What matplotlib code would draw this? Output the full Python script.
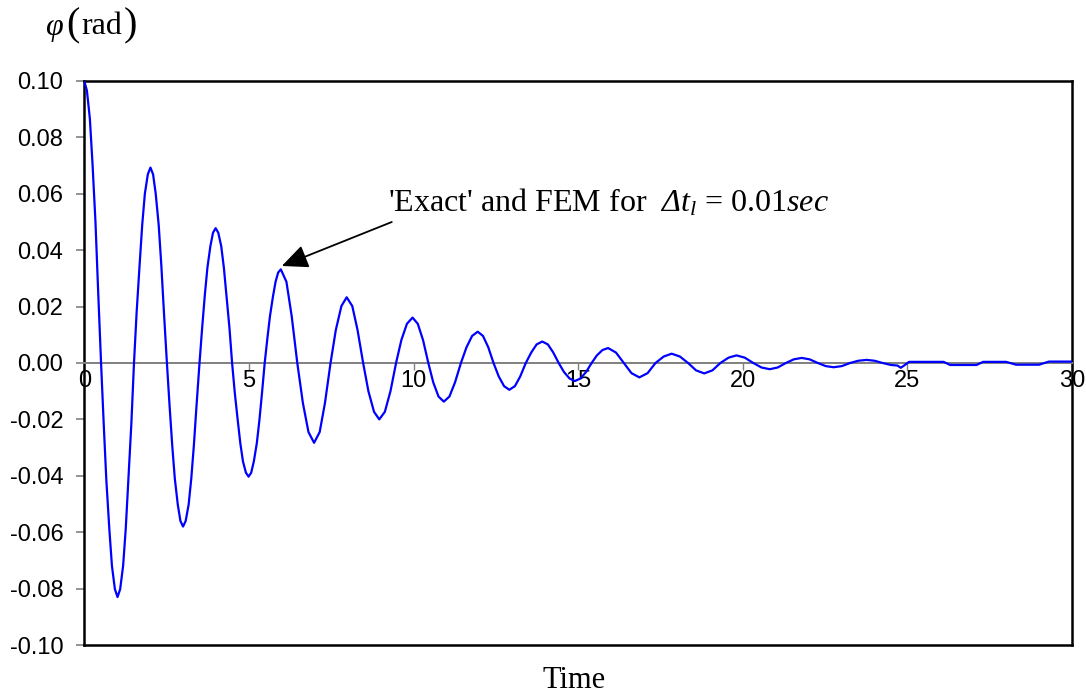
import numpy as np
import matplotlib
matplotlib.use("Agg")
import matplotlib.pyplot as plt
from matplotlib.ticker import FormatStrFormatter

# --- 1. DATA ---
# time axis, seconds
time = [
    0.00, 0.08, 0.17, 0.25, 0.34, 0.42, 0.51, 0.59, 0.67, 0.76, 0.84, 0.93, 1.01,
    1.09, 1.18, 1.26, 1.34, 1.43, 1.51, 1.59, 1.68, 1.76, 1.84, 1.93, 2.01,
    2.09, 2.17, 2.26, 2.34, 2.42, 2.51, 2.59, 2.67, 2.75, 2.84, 2.92, 3.00,
    3.08, 3.17, 3.25, 3.33, 3.41, 3.50, 3.58, 3.66, 3.74, 3.83, 3.91, 3.99,
    4.07, 4.16, 4.24, 4.32, 4.41, 4.49, 4.57, 4.66, 4.74, 4.82, 4.91, 4.99,
    5.07, 5.15, 5.24, 5.32, 5.40, 5.48, 5.56, 5.64, 5.73, 5.81, 5.89, 5.97,
    6.14, 6.30, 6.47, 6.64, 6.81, 6.98,
    7.15, 7.31, 7.48, 7.64, 7.81, 7.97,
    8.14, 8.30, 8.47, 8.63, 8.80, 8.96,
    9.13, 9.30, 9.47, 9.63, 9.80, 9.97,
    10.13, 10.29, 10.45, 10.60, 10.76, 10.92,
    11.09, 11.26, 11.44, 11.61, 11.78, 11.95,
    12.11, 12.27, 12.43, 12.59, 12.75, 12.91,
    13.08, 13.24, 13.41, 13.58, 13.74, 13.91,
    14.08, 14.24, 14.41, 14.57, 14.74, 14.90,
    15.07, 15.24, 15.41, 15.57, 15.74, 15.91,
    16.15, 16.39, 16.62, 16.86,
    17.11, 17.35, 17.60, 17.84,
    18.09, 18.34, 18.58, 18.83,
    19.08, 19.32, 19.57, 19.81,
    20.06, 20.32, 20.57, 20.82,
    21.06, 21.31, 21.55, 21.79,
    22.03, 22.28, 22.52, 22.76,
    23.01, 23.26, 23.51, 23.76,
    24.00, 24.25, 24.50, 24.70, 24.80, 24.90, 25.05, 26.10, 26.30, 27.10,
    27.30, 28.00, 28.30, 29.00, 29.30, 30.00,
]

# rotation angle phi, rad
phi = [
    0.1000, 0.0966, 0.0866, 0.0707, 0.0500, 0.0259, 0.0, -0.0215, -0.0415, -0.0587, -0.0719, -0.0802, -0.0830,
    -0.0802, -0.0719, -0.0587, -0.0415, -0.0215, 0.0, 0.0179, 0.0347, 0.0490, 0.0600, 0.0669, 0.0693,
    0.0669, 0.0600, 0.0490, 0.0347, 0.0179, 0.0, -0.0150, -0.0290, -0.0410, -0.0502, -0.0560, -0.0580,
    -0.0560, -0.0502, -0.0410, -0.0290, -0.0150, 0.0, 0.0124, 0.0239, 0.0338, 0.0414, 0.0462, 0.0478,
    0.0462, 0.0414, 0.0338, 0.0239, 0.0124, 0.0, -0.0104, -0.0202, -0.0285, -0.0349, -0.0389, -0.0403,
    -0.0389, -0.0349, -0.0285, -0.0202, -0.0104, 0.0, 0.0086, 0.0166, 0.0235, 0.0288, 0.0321, 0.0332,
    0.0288, 0.0166, 0.0, -0.0142, -0.0245, -0.0283,
    -0.0245, -0.0142, 0.0, 0.0117, 0.0202, 0.0233,
    0.0202, 0.0117, 0.0, -0.0100, -0.0173, -0.0200,
    -0.0173, -0.0100, 0.0, 0.0081, 0.0139, 0.0161,
    0.0139, 0.0081, 0.0, -0.0069, -0.0119, -0.0137,
    -0.0119, -0.0069, 0.0, 0.0056, 0.0096, 0.0111,
    0.0096, 0.0056, 0.0, -0.0048, -0.0082, -0.0095,
    -0.0082, -0.0048, 0.0, 0.0038, 0.0066, 0.0076,
    0.0066, 0.0038, 0.0, -0.0032, -0.0055, -0.0064,
    -0.0055, -0.0032, 0.0, 0.0027, 0.0046, 0.0053,
    0.0037, 0.0, -0.0036, -0.0051,
    -0.0036, 0.0, 0.0023, 0.0033,
    0.0023, 0.0, -0.0026, -0.0037,
    -0.0026, 0.0, 0.0019, 0.0027,
    0.0019, 0.0, -0.0016, -0.0022,
    -0.0016, 0.0, 0.0013, 0.0018,
    0.0013, 0.0, -0.0011, -0.0015,
    -0.0011, 0.0, 0.0008, 0.0011,
    0.0008, 0.0, -0.0007, -0.0009, -0.0017, -0.0009, 0.0004, 0.0004, -0.0007, -0.0007,
    0.0004, 0.0004, -0.0006, -0.0006, 0.0005, 0.0005,
]

x_ticks = [0, 5, 10, 15, 20, 25, 30]
y_ticks = [-0.10, -0.08, -0.06, -0.04, -0.02, 0.00, 0.02, 0.04, 0.06, 0.08, 0.10]

# --- 2. FONTS ---
plt.rcParams['font.family'] = ['Liberation Sans', 'DejaVu Sans']
plt.rcParams['mathtext.fontset'] = 'custom'
plt.rcParams['mathtext.rm'] = 'Liberation Serif'
plt.rcParams['mathtext.it'] = 'Liberation Serif:italic'
# sf slot is used only to get an italic capital Delta
plt.rcParams['mathtext.sf'] = 'Liberation Serif:italic'

# --- 3. FIGURE ---
fig = plt.figure(figsize=(10.86, 6.94), dpi=100)
ax = fig.add_axes([0.0776, 0.0706, 0.9095, 0.8127])

ax.plot(time, phi, color='#0000ff', lw=1.6, zorder=3)

ax.set_xlim(0, 30)
ax.set_ylim(-0.1, 0.1)
ax.set_xticks(x_ticks)
ax.set_yticks(y_ticks)
ax.yaxis.set_major_formatter(FormatStrFormatter('%.2f'))

# x axis crosses at zero (gray), frame is black
ax.spines['bottom'].set_position(('data', 0))
ax.spines['bottom'].set_color('#808080')
ax.spines['bottom'].set_linewidth(1.4)
for side in ['left', 'top', 'right']:
    ax.spines[side].set_color('black')
    ax.spines[side].set_linewidth(1.8)
ax.axhline(-0.1, color='black', lw=1.8, clip_on=False, zorder=4)

ax.tick_params(axis='x', direction='out', length=5, width=1, color='#808080',
               labelcolor='black', labelsize=17, pad=0)
ax.tick_params(axis='y', direction='out', length=6, width=1.2, color='#808080',
               labelcolor='black', labelsize=17, pad=9)

# --- 4. TEXTS ---
serif = ['Liberation Serif', 'DejaVu Serif']
y_top = 1 - 27 / 694
fig.text(45 / 1086, y_top, 'φ', family=serif, style='italic', size=23,
         ha='left', va='center')
fig.text(66 / 1086, y_top + 0.002, '(', family=serif, size=29, ha='left', va='center')
fig.text(81 / 1086, y_top, 'rad', family=serif, size=23, ha='left', va='center')
fig.text(124 / 1086, y_top + 0.002, ')', family=serif, size=29, ha='left', va='center')

fig.text(574 / 1086, 1 - 680 / 694, 'Time', family=serif, size=22,
         ha='center', va='center')

fig.text(388 / 1086, 1 - 203 / 694,
         "'Exact' and FEM for  $\\mathsf{Δ}\\mathit{t}_{\\mathit{l}}$ = 0.01$\\mathit{sec}$",
         family=serif, size=23, ha='left', va='center')

ax.annotate('', xy=(6.0, 0.0344), xytext=(9.34, 0.050),
            arrowprops=dict(arrowstyle='-|>,head_length=1.0,head_width=0.45',
                            color='black', lw=1.3, shrinkA=0, shrinkB=0,
                            mutation_scale=16))

fig.savefig('out.png', dpi=100)
